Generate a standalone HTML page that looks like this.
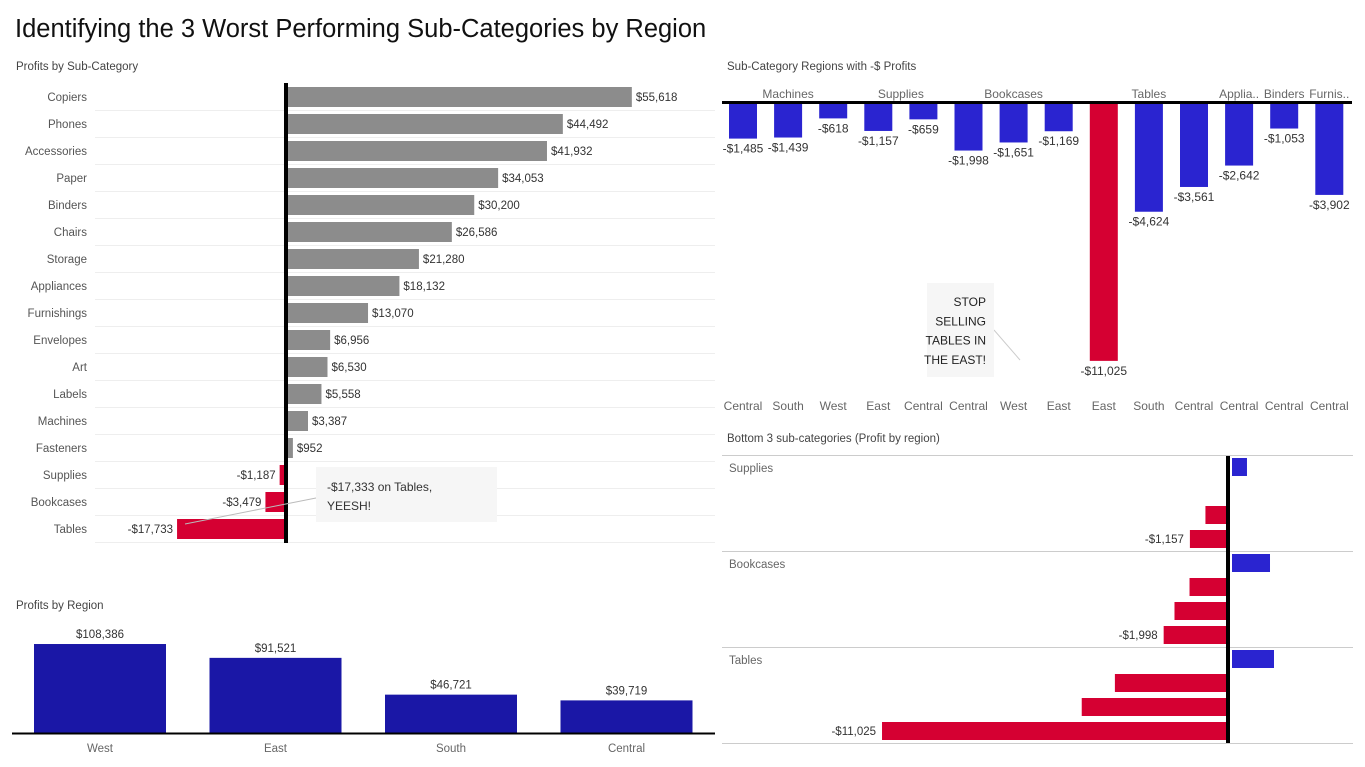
<!DOCTYPE html>
<html><head><meta charset="utf-8">
<style>
body{margin:0;background:#fff;font-family:"Liberation Sans",sans-serif;}
svg{display:block}
text{font-family:"Liberation Sans",sans-serif;}
</style></head>
<body>
<svg id="s" width="1365" height="767" xmlns="http://www.w3.org/2000/svg">
<text x="15" y="37" font-size="25.5" fill="#111">Identifying the 3 Worst Performing Sub-Categories by Region</text>
<text x="16" y="70" font-size="11.5" fill="#444">Profits by Sub-Category</text>
<text x="16" y="609" font-size="11.5" fill="#444">Profits by Region</text>
<text x="727" y="70" font-size="11.5" fill="#444">Sub-Category Regions with -$ Profits</text>
<text x="727" y="442" font-size="11.5" fill="#444">Bottom 3 sub-categories (Profit by region)</text>
<g id="g1"></g><g id="g2"></g><g id="g3"></g><g id="g4"></g>
</svg>
<script>
const NS="http://www.w3.org/2000/svg";
function el(p,t,a,txt){const e=document.createElementNS(NS,t);for(const k in a)e.setAttribute(k,a[k]);if(txt!==undefined)e.textContent=txt;p.appendChild(e);return e;}
function fmt(v){return (v<0?"-":"")+"$"+Math.abs(v).toLocaleString("en-US");}
const BLUE="#2a24d0",RED="#d50032",GRAY="#8c8c8c",NAVY="#1a17a6";

// Chart 1: profits by sub-category
const subCats=["Copiers","Phones","Accessories","Paper","Binders","Chairs","Storage","Appliances","Furnishings","Envelopes","Art","Labels","Machines","Fasteners","Supplies","Bookcases","Tables"];
const subProfit=[55618,44492,41932,34053,30200,26586,21280,18132,13070,6956,6530,5558,3387,952,-1187,-3479,-17733];
(function(){
const g=document.getElementById("g1");
const x0=287,k=0.0062,y0=97,step=27;
const xs=v=>x0+v*k, ys=i=>y0+i*step;
subCats.forEach((c,i)=>{
 const y=ys(i);
 const ln=el(g,"line",{x1:95,x2:715,y1:y+13.5,y2:y+13.5,stroke:"#eee","stroke-width":1});
 
 
 const lb=el(g,"text",{x:87,y:y+4,"font-size":11.5,fill:"#555","text-anchor":"end"},c);
 
 
 const v=subProfit[i];
 const r=el(g,"rect",{x:Math.min(xs(0),xs(v)),y:y-10,width:Math.abs(xs(v)-xs(0)),height:20,fill:v<0?RED:GRAY});
 
 
 const t=el(g,"text",{x:v<0?xs(v)-4:xs(v)+4,y:y+4,"font-size":11.5,fill:"#333","text-anchor":v<0?"end":"start"},fmt(v));
 
 
});
const z=el(g,"rect",{x:x0-3,y:83,width:4,height:460,fill:"#000"});


const l=el(g,"line",{x1:316,y1:498,x2:185,y2:524,stroke:"#bbb"});


const b=el(g,"rect",{x:316,y:467,width:181,height:55,fill:"#f6f6f6"});


el(g,"text",{x:327,y:491,"font-size":12,fill:"#333"},"-$17,333 on Tables,");
el(g,"text",{x:327,y:510,"font-size":12,fill:"#333"},"YEESH!");
})();

// Chart 2: profits by region
const regions=["West","East","South","Central"];
const regionProfit=[108386,91521,46721,39719];
(function(){
const g=document.getElementById("g2");
const base=733,k=0.000821,x0=34,step=175.5,w=132;
regions.forEach((r,i)=>{
 const x=x0+i*step,h=regionProfit[i]*k;
 const b=el(g,"rect",{x:x,y:base-h,width:w,height:h,fill:NAVY});
 
 
 const t=el(g,"text",{x:x+w/2,y:base-h-6,"font-size":11.5,fill:"#333","text-anchor":"middle"},fmt(regionProfit[i]));
 
 
 const l=el(g,"text",{x:x+w/2,y:752,"font-size":11.5,fill:"#666","text-anchor":"middle"},r);
 
 
});
const a=el(g,"line",{x1:12,x2:715,y1:base+0.5,y2:base+0.5,stroke:"#000","stroke-width":2});


})();

// Chart 3: negative sub-category regions
const negRegions=["Central","South","West","East","Central","Central","West","East","East","South","Central","Central","Central","Central"];
const negValues=[-1485,-1439,-618,-1157,-659,-1998,-1651,-1169,-11025,-4624,-3561,-2642,-1053,-3902];
const negGroups=["Machines","Machines","Machines","Supplies","Supplies","Bookcases","Bookcases","Bookcases","Tables","Tables","Tables","Applia..","Binders","Furnis.."];
(function(){
const g=document.getElementById("g3");
const base=103,k=0.0233,x0=729,step=45.1,w=28;
const hl=el(g,"rect",{x:722,y:base-2,width:630,height:3,fill:"#000"});


const seen={};
negGroups.forEach((gname,i)=>{ if(!seen[gname]) seen[gname]={a:i,b:i}; else seen[gname].b=i; });
for(const gname in seen){
 const s=seen[gname];const cx=x0+(s.a*step+s.b*step)/2+w/2;
 const t=el(g,"text",{x:cx,y:98,"font-size":12,fill:"#666","text-anchor":"middle"},gname);
 
 
}
negValues.forEach((v,i)=>{
 const x=x0+i*step,h=-v*k;
 const b=el(g,"rect",{x:x,y:base+1,width:w,height:h,fill:v===Math.min(...negValues)?RED:BLUE});
 
 
 const t=el(g,"text",{x:x+w/2,y:base+h+15,"font-size":12,fill:"#333","text-anchor":"middle"},fmt(v));
 
 
 const r=el(g,"text",{x:x+w/2,y:410,"font-size":12,fill:"#666","text-anchor":"middle"},negRegions[i]);
 
 
});
const l=el(g,"line",{x1:994,y1:330,x2:1020,y2:360,stroke:"#ccc"});


const b=el(g,"rect",{x:927,y:283,width:67,height:94,fill:"#f6f6f6"});


["STOP","SELLING","TABLES IN","THE EAST!"].forEach((s,i)=>el(g,"text",{x:986,y:306+i*19.3,"font-size":12,fill:"#222","text-anchor":"end"},s));
})();

// Chart 4: bottom 3 sub-categories
const b3Cats=["Supplies","Bookcases","Tables"];
const b3Values=[[480,null,-659,-1157],[1218,-1169,-1651,-1998],[1346,-3561,-4624,-11025]];
(function(){
const g=document.getElementById("g4");
const x0=1228,k=0.0312,top=455,ph=96,rowH=24;
b3Cats.forEach((c,p)=>{
 const py=top+p*ph;
 const s=el(g,"line",{x1:722,x2:1353,y1:py+0.5,y2:py+0.5,stroke:"#ccc"});
 
 
 const t=el(g,"text",{x:729,y:py+17,"font-size":11.5,fill:"#666"},c);
 
 
 const vals=b3Values[p];
 const mn=Math.min(...vals.filter(v=>v!==null));
 vals.forEach((v,j)=>{
  if(v===null)return;
  const y=py+3+j*rowH;
  const x=v<0?x0-2+v*k:x0+4, w=Math.abs(v*k);
  const b=el(g,"rect",{x:x,y:y,width:w,height:18,fill:v<0?RED:BLUE});
  
  
  if(v===mn){
   const lt=el(g,"text",{x:x-6,y:y+13,"font-size":11.5,fill:"#333","text-anchor":"end"},fmt(v));
   
   
  }
 });
});
const s=el(g,"line",{x1:722,x2:1353,y1:top+3*ph+0.5,y2:top+3*ph+0.5,stroke:"#ccc"});


const z=el(g,"rect",{x:x0-2,y:top+1,width:4,height:3*ph-1,fill:"#000"});


})();
</script>
</body></html>
